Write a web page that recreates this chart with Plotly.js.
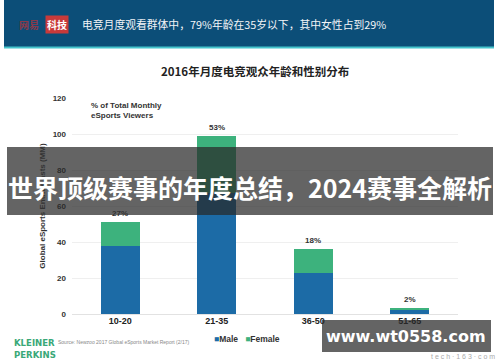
<!DOCTYPE html>
<html><head><meta charset="utf-8">
<script src="https://cdn.plot.ly/plotly-3.0.1.min.js"></script>
<style>html,body{margin:0;padding:0;background:#fff;}#chart{width:500px;height:362px;}</style>
</head><body><div id="chart"></div>
<script>
const ageGroups = ['10-20', '21-35', '36-50', '51-65'];
const maleValues = [38, 67, 23, 2];
const femaleValues = [13, 32, 13, 1.3];
const shareLabels = ['27%', '53%', '18%', '2%'];
const yTicks = [0, 20, 40, 60, 80, 100, 120];
const chartTitle = '2016年月度电竞观众年龄和性别分布';
const headerText = '电竞月度观看群体中，79%年龄在35岁以下，其中女性占到29%';
const bannerText = '世界顶级赛事的年度总结，2024赛事全解析';
const watermarkText = 'www.wt0558.com';

const W = 500, H = 362, L = 72, R = 42, T = 98, B = 48;
const pw = W - L - R, ph = H - T - B;
const px = x => (x - L) / pw;
const py = y => (H - B - y) / ph;

const MALE = '#1c6ba6', FEMALE = '#3db27d';
const FONT = 'Liberation Sans, Arial, Noto Sans CJK SC, sans-serif';
const CJK = 'Noto Sans CJK SC, sans-serif';

const traces = [
  {type: 'bar', name: 'Male', x: ageGroups, y: maleValues, marker: {color: MALE}, hoverinfo: 'none'},
  {type: 'bar', name: 'Female', x: ageGroups, y: femaleValues, marker: {color: FEMALE}, hoverinfo: 'none'}
];

function note(x, y, text, font, extra) {
  return Object.assign({x: px(x), y: py(y), xref: 'paper', yref: 'paper', xanchor: 'center', yanchor: 'middle',
    text: text, showarrow: false, font: font}, extra || {});
}

const annotations = [];
ageGroups.forEach((g, i) => {
  annotations.push({x: g, y: maleValues[i] + femaleValues[i], xref: 'x', yref: 'y', text: '<b>' + shareLabels[i] + '</b>',
    showarrow: false, xanchor: 'center', yanchor: 'bottom', yshift: 2, font: {family: FONT, size: 8, color: '#333'}});
});
annotations.push(
  note(89, 110, '<b>% of Total Monthly<br>eSports Viewers</b>', {family: FONT, size: 8, color: '#333'}, {xanchor: 'left', align: 'left'}),
  note(255, 71, '<b>' + chartTitle + '</b>', {family: CJK, size: 11.5, color: '#222'}),
  note(212, 339, '<b><span style="color:' + MALE + '">■</span>Male   <span style="color:' + FEMALE + '">■</span>Female</b>',
       {family: FONT, size: 8.5, color: '#333'}, {xanchor: 'left'}),
  note(56, 342, 'Source: Newzoo 2017 Global eSports Market Report (2/17)', {family: FONT, size: 5, color: '#888'}, {xanchor: 'left'}),
  note(12, 348, '<b>KLEINER<br>PERKINS</b>', {family: 'DejaVu Sans Condensed, sans-serif', size: 9.5, color: '#3aa878'},
       {xanchor: 'left', align: 'left'}),
  note(17, 24, '<b>网易</b>', {family: CJK, size: 10, color: '#8a3a4a'}, {xanchor: 'left'}),
  note(57, 24, '<b>科技</b>', {family: CJK, size: 10, color: '#fff'}, {bgcolor: '#c83a3a', borderpad: 1}),
  note(80, 24, headerText, {family: CJK, size: 10.8, color: '#f2f4f7'}, {xanchor: 'left'}),
  note(250, 187, '<b>' + bannerText + '</b>', {family: CJK, size: 25, color: '#fff'}),
  note(497, 356, 't e c h · 1 6 3 · c o m', {family: FONT, size: 7, color: '#aaa'}, {xanchor: 'right'}),
  note(406, 336, '<b>' + watermarkText + '</b>', {family: 'DejaVu Sans, sans-serif', size: 16, color: '#fff'})
);

const shapes = [
  {type: 'rect', xref: 'paper', yref: 'paper', x0: px(4), x1: px(494), y0: py(0), y1: py(47), fillcolor: '#0c4e78', line: {width: 0}},
  {type: 'rect', xref: 'paper', yref: 'paper', x0: px(4), x1: px(494), y0: py(46.5), y1: py(48.5), fillcolor: '#45c4cc', line: {width: 0}},
  {type: 'rect', xref: 'paper', yref: 'paper', x0: px(7), x1: px(493), y0: py(147), y1: py(215), fillcolor: 'rgba(40,40,40,0.72)', line: {width: 0}},
  {type: 'rect', xref: 'paper', yref: 'paper', x0: px(322), x1: px(491), y0: py(320), y1: py(352), fillcolor: 'rgba(40,40,40,0.72)', line: {width: 0}}
];

const layout = {
  width: W, height: H, margin: {l: L, r: R, t: T, b: B, pad: 0},
  paper_bgcolor: '#fff', plot_bgcolor: '#fff', showlegend: false,
  barmode: 'stack', bargap: 0.6,
  font: {family: FONT, size: 8, color: '#333'},
  xaxis: {type: 'category', range: [-0.5, 3.5], showgrid: false, zeroline: false, showline: false, ticks: '',
          tickfont: {family: FONT, size: 9, color: '#222', weight: 'bold'}, fixedrange: true},
  yaxis: {range: [0, 120], tickvals: yTicks, showgrid: true, gridcolor: '#efefef', gridwidth: 1, zeroline: true, zerolinecolor: '#e2e2e2',
          showline: false, ticks: '', ticklabelstandoff: 5, tickfont: {family: FONT, size: 8, color: '#333', weight: 'bold'},
          title: {text: '<b>Global eSports Enthusiasts (MM)</b>', standoff: 5, font: {family: FONT, size: 8, color: '#333'}}, fixedrange: true},
  annotations: annotations, shapes: shapes
};

Plotly.newPlot('chart', traces, layout, {displayModeBar: false, staticPlot: true});
</script></body></html>
